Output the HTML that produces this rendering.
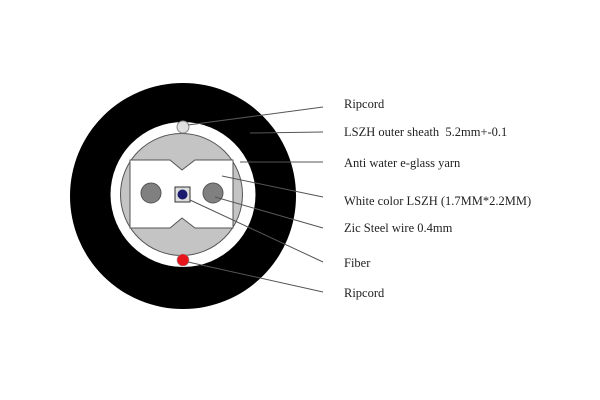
<!DOCTYPE html>
<html><head><meta charset="utf-8"><style>
html,body{margin:0;padding:0;background:#fff;width:600px;height:400px;overflow:hidden}
text{font-family:"Liberation Serif",serif;font-size:12.5px;fill:#222}
</style></head><body>
<svg width="600" height="400" viewBox="0 0 600 400" xmlns="http://www.w3.org/2000/svg">
<circle cx="183" cy="196" r="113" fill="#000"/>
<circle cx="183" cy="194.5" r="72.5" fill="#fff"/>
<circle cx="181.5" cy="194.5" r="61" fill="#c4c4c4" stroke="#555" stroke-width="1"/>
<path d="M130,160 L170,160 L182,170 L195,160 L233,160 L233,228 L195,228 L182,218 L170,228 L130,228 Z" fill="#fff" stroke="#555" stroke-width="1"/>
<circle cx="151" cy="193" r="10" fill="#808080" stroke="#555"/>
<circle cx="213" cy="193" r="10" fill="#808080" stroke="#555"/>
<rect x="175" y="187" width="15" height="15" fill="#ddd" stroke="#333"/>
<circle cx="182.5" cy="194.5" r="5" fill="#1a1a6e"/>
<circle cx="183" cy="127" r="6" fill="#e0e0e0" stroke="#888"/>
<circle cx="183" cy="260" r="6" fill="#e8141c" stroke="#999" stroke-width="0.6"/>
<g stroke="#555" stroke-width="1">
<line x1="188" y1="125" x2="323" y2="107"/>
<line x1="250" y1="133" x2="323" y2="132"/>
<line x1="240" y1="162" x2="323" y2="162"/>
<line x1="222" y1="176" x2="323" y2="197"/>
<line x1="215" y1="197" x2="323" y2="228"/>
<line x1="190" y1="200" x2="323" y2="262"/>
<line x1="188" y1="262" x2="323" y2="292"/>
</g>
<text x="344" y="108">Ripcord</text>
<text x="344" y="136">LSZH outer sheath&#160; 5.2mm+-0.1</text>
<text x="344" y="167">Anti water e-glass yarn</text>
<text x="344" y="205">White color LSZH (1.7MM*2.2MM)</text>
<text x="344" y="232">Zic Steel wire 0.4mm</text>
<text x="344" y="267">Fiber</text>
<text x="344" y="297">Ripcord</text>
</svg>
</body></html>
